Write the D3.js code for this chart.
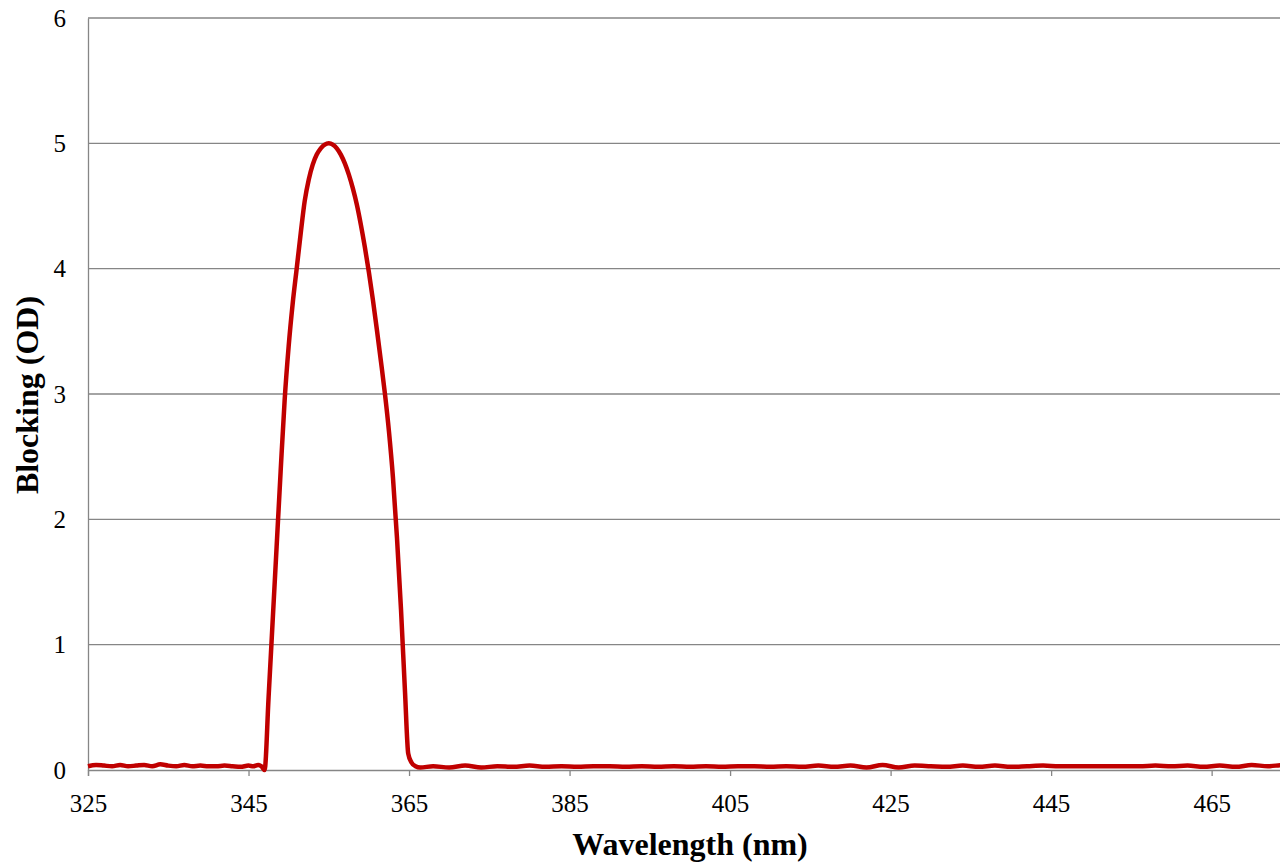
<!DOCTYPE html>
<html>
<head>
<meta charset="utf-8">
<script src="https://cdn.jsdelivr.net/npm/d3@7"></script>
<style>
  html, body { margin: 0; padding: 0; background: #fff; overflow: hidden; }
  svg { display: block; }
  text { font-family: "Liberation Serif", "Times New Roman", serif; fill: #000; }
</style>
</head>
<body>
<div id="chart"></div>
<script>
// ---- data ----
const wavelengths = [
  325, 326, 327, 328, 329, 330, 331, 332, 333, 334, 335, 336, 337, 338, 339, 340,
  341, 342, 343, 344, 345, 345.6, 346.2, 346.6, 347.0,
  347.5, 348.0, 348.5, 349.0, 349.5, 350.0, 350.5, 351.0, 351.5, 352.0, 352.5, 353.0,
  353.5, 354.0, 354.5, 355.0, 355.5, 356.0, 356.5, 357.0, 357.5, 358.0, 358.5, 359.0,
  359.5, 360.0, 360.5, 361.0, 361.5, 362.0, 362.5, 363.0, 363.5, 364.0, 364.5, 364.9,
  365.3, 365.8, 366.4,
  368, 370, 372, 374, 376, 378, 380, 382, 384, 386, 388, 390, 392, 394, 396, 398,
  400, 402, 404, 406, 408, 410, 412, 414, 416, 418, 420, 422, 424, 426, 428, 430,
  432, 434, 436, 438, 440, 442, 444, 446, 448, 450, 452, 454, 456, 458, 460, 462,
  464, 466, 468, 470, 472, 474, 475
];
const blocking = [
  0.03, 0.04, 0.035, 0.03, 0.04, 0.03, 0.035, 0.04, 0.03, 0.045, 0.035, 0.03, 0.04, 0.03, 0.035, 0.03,
  0.03, 0.035, 0.03, 0.025, 0.035, 0.03, 0.04, 0.03, 0.0,
  0.58, 1.18, 1.78, 2.38, 2.95, 3.38, 3.72, 4.0, 4.28, 4.54, 4.71, 4.83,
  4.91, 4.96, 4.99, 5.0, 4.99, 4.96, 4.91, 4.84, 4.75, 4.64, 4.51, 4.35,
  4.17, 3.97, 3.75, 3.51, 3.26, 3.0, 2.7, 2.33, 1.85, 1.28, 0.62, 0.13,
  0.06, 0.03, 0.02,
  0.03, 0.02, 0.035, 0.02, 0.03, 0.025, 0.035, 0.025, 0.03, 0.025, 0.03, 0.03, 0.025, 0.03, 0.025, 0.03,
  0.025, 0.03, 0.025, 0.03, 0.03, 0.025, 0.03, 0.025, 0.035, 0.025, 0.035, 0.02, 0.04, 0.02, 0.035, 0.03,
  0.025, 0.035, 0.025, 0.035, 0.025, 0.03, 0.035, 0.03, 0.03, 0.03, 0.03, 0.03, 0.03, 0.035, 0.03, 0.035,
  0.025, 0.035, 0.025, 0.04, 0.03, 0.04, 0.04
];
const xTicks = [325, 345, 365, 385, 405, 425, 445, 465];
const yTicks = [0, 1, 2, 3, 4, 5, 6];
const xTitle = "Wavelength (nm)";
const yTitle = "Blocking (OD)";

// ---- layout ----
const W = 1280, H = 864;
const mLeft = 88, mTop = 18, plotBottom = 770;
const x = d3.scaleLinear().domain([325, 475]).range([mLeft, mLeft + 150 * 8.026]);
const y = d3.scaleLinear().domain([0, 6]).range([plotBottom, mTop]);

const svg = d3.select("#chart").append("svg").attr("width", W).attr("height", H);

// gridlines
svg.append("g").selectAll("line").data(yTicks.filter(d => d > 0)).join("line")
  .attr("x1", mLeft).attr("x2", x(475))
  .attr("y1", d => y(d)).attr("y2", d => y(d))
  .attr("stroke", "#868686").attr("stroke-width", 1.3);

// y axis
const yAxis = svg.append("g").attr("transform", `translate(${mLeft},0)`)
  .call(d3.axisLeft(y).tickValues(yTicks).tickFormat(d3.format("d")).tickSize(0).tickPadding(22));
yAxis.select(".domain").attr("stroke", "#868686").attr("stroke-width", 1.3);
yAxis.selectAll("text").attr("font-size", 25).style("font-family", "Liberation Serif");

// x axis
const xAxis = svg.append("g").attr("transform", `translate(0,${plotBottom})`)
  .call(d3.axisBottom(x).tickValues(xTicks).tickFormat(d3.format("d")).tickSizeOuter(0).tickSize(6).tickPadding(18));
xAxis.select(".domain").attr("stroke", "#868686").attr("stroke-width", 1.3);
xAxis.selectAll(".tick line").attr("stroke", "#868686").attr("stroke-width", 1.3);
xAxis.selectAll("text").attr("font-size", 25).style("font-family", "Liberation Serif");

// line
const data = wavelengths.map((w, i) => [w, blocking[i]]);
svg.append("path").datum(data)
  .attr("fill", "none").attr("stroke", "#C00000").attr("stroke-width", 4.5)
  .attr("stroke-linejoin", "round")
  .attr("d", d3.line().x(d => x(d[0])).y(d => y(d[1])).curve(d3.curveMonotoneX));

// titles
svg.append("text").attr("x", 690).attr("y", 855).attr("text-anchor", "middle")
  .attr("font-size", 32).attr("font-weight", "bold").text(xTitle);
svg.append("text").attr("transform", "translate(38,395) rotate(-90)").attr("text-anchor", "middle")
  .attr("font-size", 32).attr("font-weight", "bold").text(yTitle);
</script>
</body>
</html>
